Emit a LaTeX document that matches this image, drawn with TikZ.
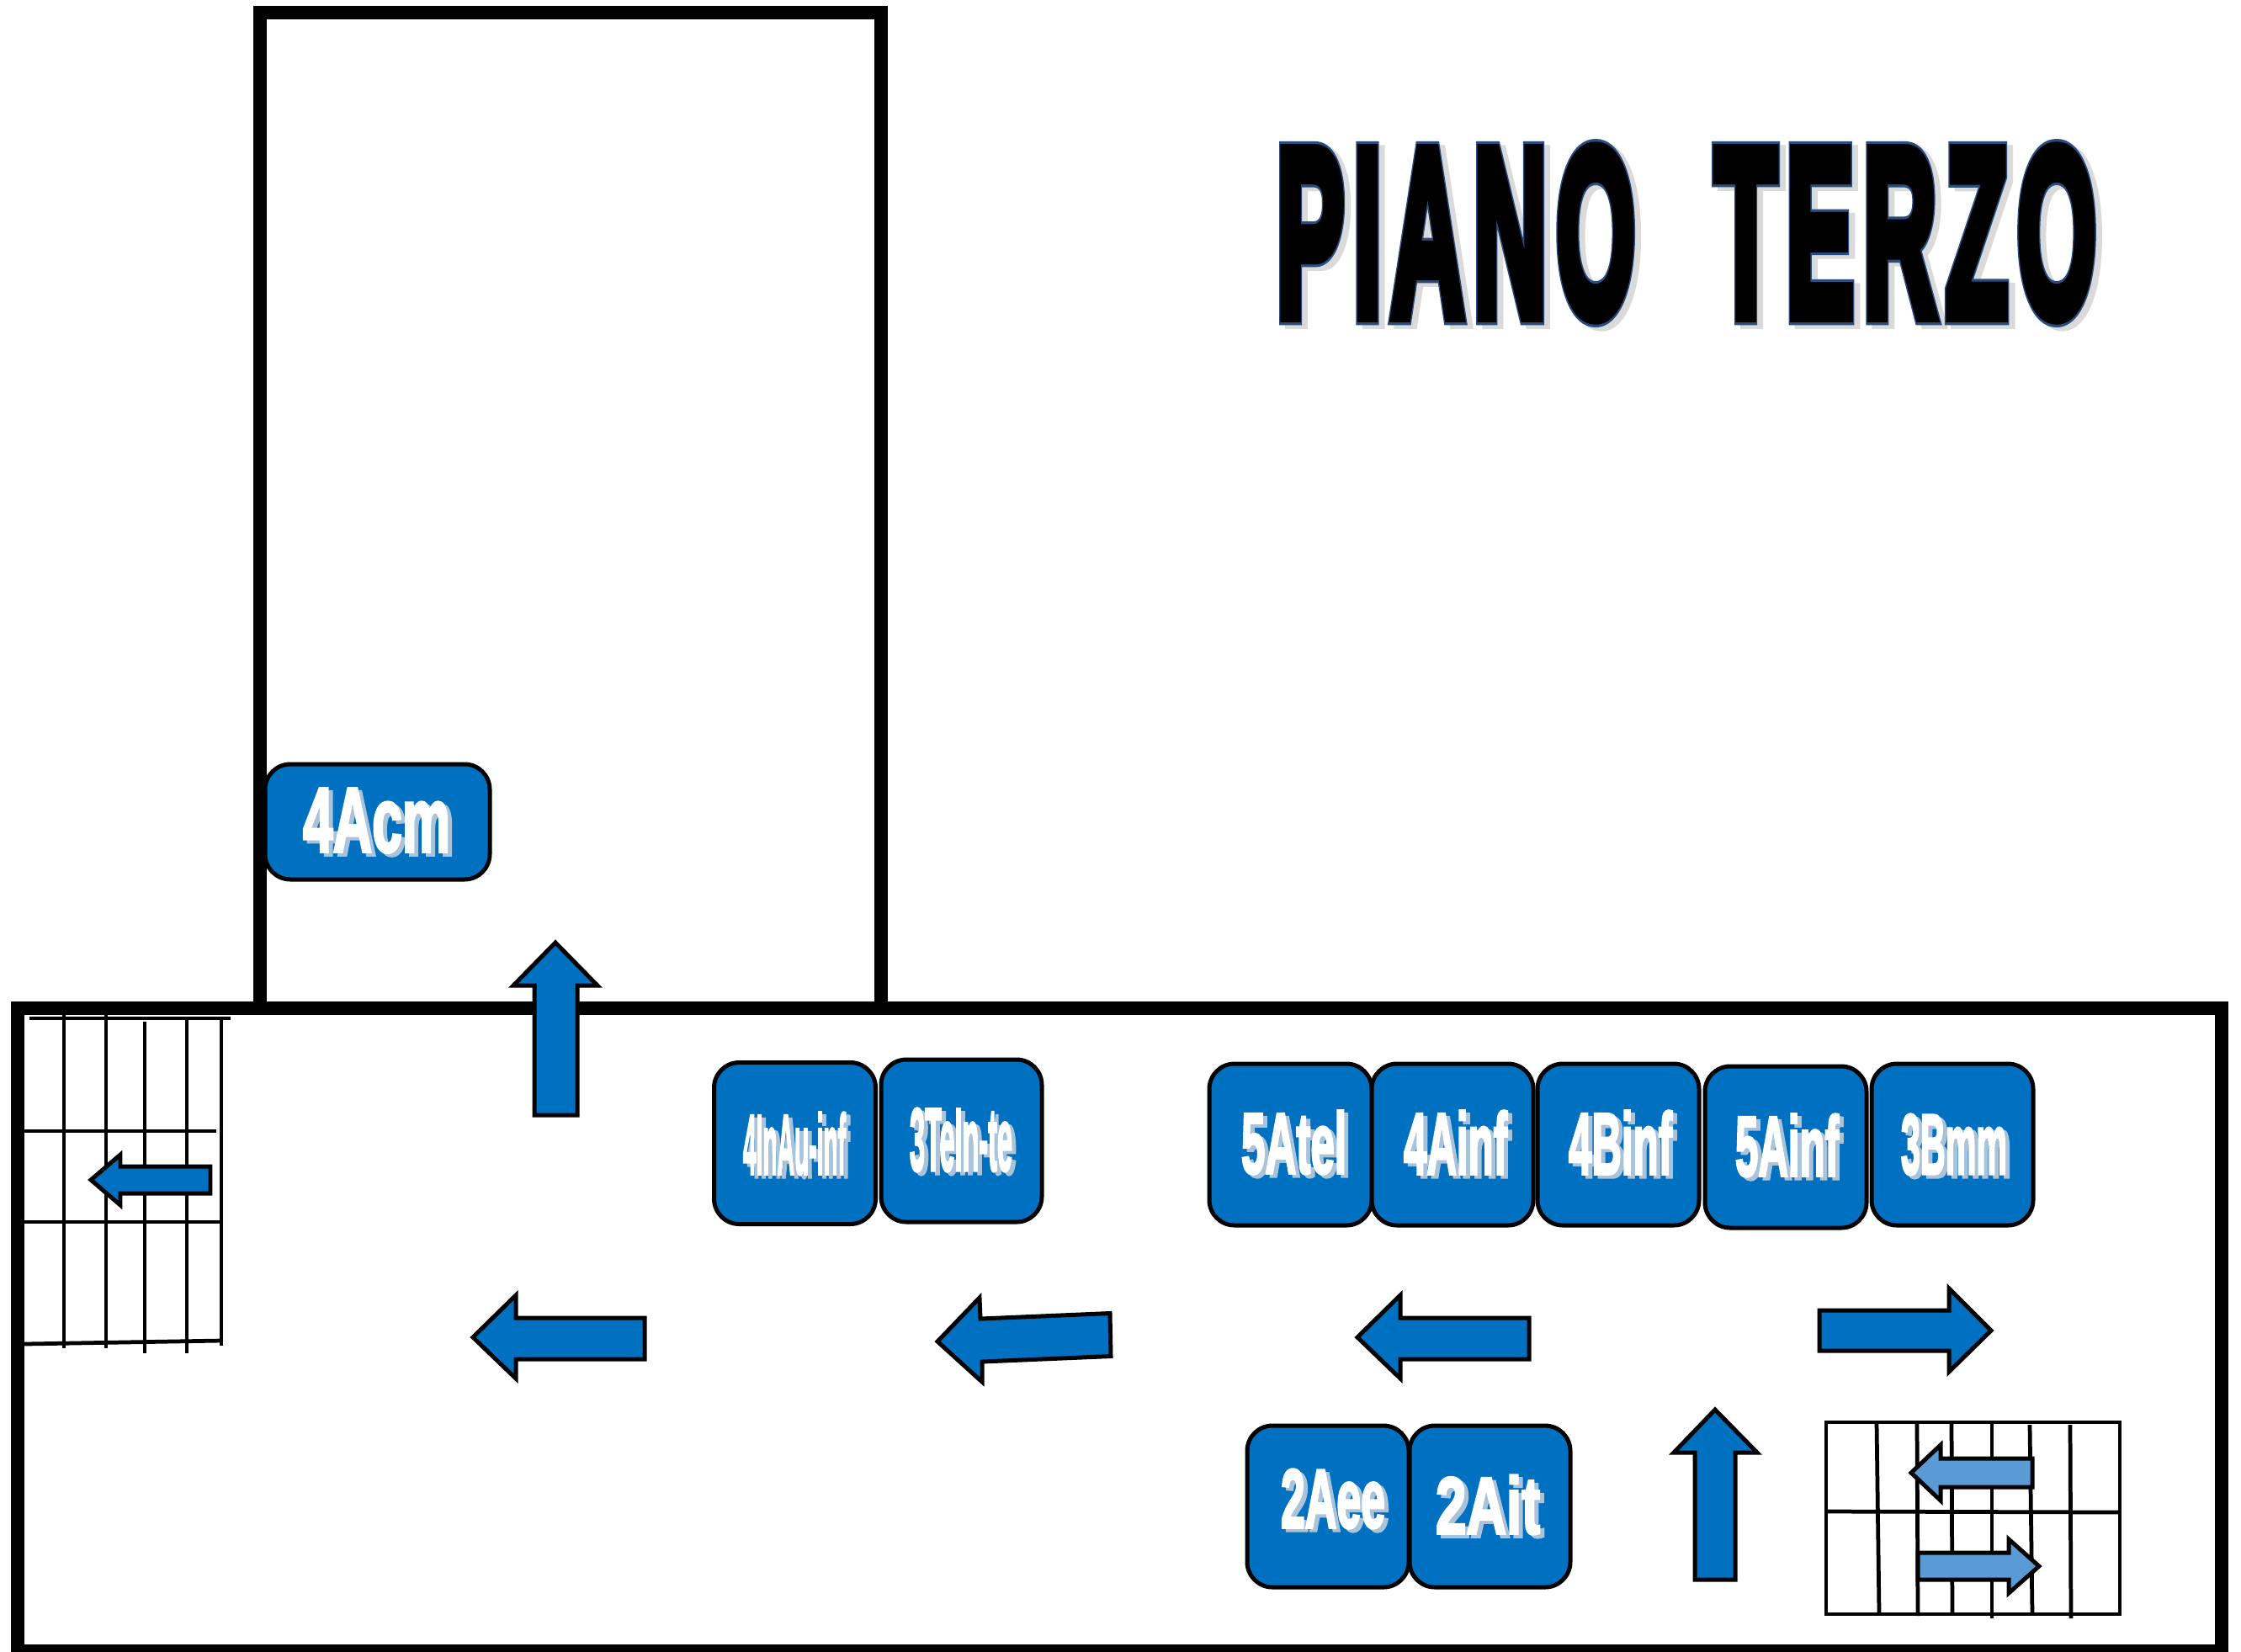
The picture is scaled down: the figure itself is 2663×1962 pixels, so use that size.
\documentclass[tikz,border=0pt]{standalone}
\usepackage{fontspec}
\setmainfont{Liberation Sans}[BoldFont={Liberation Sans Bold}]
\newfontfamily\titlefont{Liberation Sans Bold}[LetterSpace=9]
\definecolor{navblue}{HTML}{0070C0}
\definecolor{lightblue}{HTML}{5B9BD5}
\definecolor{labshadow}{HTML}{A9C4DA}
\definecolor{titleshadow}{HTML}{DADADA}
\tikzset{
  x=0.01cm,y=-0.01cm,
  wall/.style={draw=black,line width=4.55pt,line join=miter},
  stair/.style={draw=black,line width=1.35pt},
  navarrow/.style={draw=black,fill=navblue,line width=1.42pt,line join=miter,miter limit=10},
  liftarrow/.style={draw=black,fill=lightblue,line width=1.42pt,line join=miter,miter limit=10},
  roombox/.style={draw=black,fill=navblue,line width=1.42pt,rounded corners=0.3cm},
  lab/.style={inner sep=0pt,outer sep=0pt,font=\bfseries,text=white}
}
% stroked text: #1 line width, #2 stroke colour as r g b, #3 text
\newcommand{\strk}[3]{\special{pdf:code 2 Tr #1 w 0 j #2 RG}#3\special{pdf:code 0 Tr 0 G}}
% #1 name, #2-#5 x0 x1 y0 y1 of the letters, #6 text
\newcommand{\lab}[6]{%
  \pgfmathsetmacro{\labw}{(#3-#2)*0.2845}%
  \pgfmathsetmacro{\labh}{(#5-#4)*0.2845}%
  \node[lab] (#1) at ({(#2+#3)/2},{(#4+#5)/2}) {%
    \rlap{\smash{\hspace{1.4pt}\raisebox{-1.1pt}{\textcolor{labshadow}{\resizebox*{\labw pt}{\labh pt}{\strk{0.35}{0.663 0.769 0.855}{#6}}}}}}%
    \resizebox*{\labw pt}{\labh pt}{\strk{0.35}{1 1 1}{#6}}};%
}
\newcommand{\titletext}{PIANO\hspace{0.78em}TERZO}
\begin{document}
\begin{tikzpicture}
\useasboundingbox (0,0) rectangle (2663,1962);
\fill[white] (0,0) rectangle (2663,1962);
% left stairs
\draw[stair] (35,1210) -- (274,1210);
\draw[stair] (29,1344) -- (257,1344);
\draw[stair] (29,1452) -- (265,1452);
\draw[stair] (29,1597) -- (263,1593);
\draw[stair] (76,1206) -- (76,1602);
\draw[stair] (126,1206) -- (126,1602);
\draw[stair] (172,1214) -- (172,1608);
\draw[stair] (222,1210) -- (222,1608);
\draw[stair] (263,1212) -- (263,1599);
% right stairs
\draw[stair] (2170,1690) rectangle (2519,1918);
\draw[stair] (2170,1796) -- (2519,1797);
\draw[stair] (2230,1690) -- (2233,1916);
\draw[stair] (2278,1690) -- (2279,1920);
\draw[stair] (2319,1690) -- (2320,1918);
\draw[stair] (2367,1690) -- (2367,1923);
\draw[stair] (2412,1693) -- (2415,1918);
\draw[stair] (2460,1693) -- (2461,1923);
% walls
\draw[wall] (309,1198) -- (309,15) -- (1047,15) -- (1047,1198);
\draw[wall] (21,1198) rectangle (2639.5,1962);
% arrows
\draw[navarrow] (108,1402) -- (143,1372) -- (143,1386) -- (250,1386) -- (250,1418) -- (143,1418) -- (143,1432) -- cycle;
\draw[liftarrow] (2271,1750) -- (2306,1717) -- (2306,1733) -- (2415,1733) -- (2415,1767) -- (2306,1767) -- (2306,1783) -- cycle;
\draw[liftarrow] (2279,1845) -- (2387,1845) -- (2387,1829) -- (2423,1861) -- (2387,1893) -- (2387,1877) -- (2279,1877) -- cycle;
\draw[navarrow] (660,1120) -- (710,1171) -- (686,1171) -- (686,1325) -- (635,1325) -- (635,1171) -- (610,1171) -- cycle;
\draw[navarrow] (562,1589) -- (613,1539) -- (613,1566) -- (766,1566) -- (766,1615) -- (613,1615) -- (613,1638) -- cycle;
\draw[navarrow] (1114,1594) -- (1164,1542) -- (1165,1567) -- (1319,1560.5) -- (1320,1611.5) -- (1167,1618) -- (1167,1642) -- cycle;
\draw[navarrow] (1613,1589) -- (1664,1539) -- (1664,1566) -- (1817,1566) -- (1817,1615) -- (1664,1615) -- (1664,1638) -- cycle;
\draw[navarrow] (2162,1557) -- (2316,1557) -- (2316,1531) -- (2366,1581) -- (2316,1630) -- (2316,1605) -- (2162,1605) -- cycle;
\draw[navarrow] (2038,1675) -- (2088,1726) -- (2062,1726) -- (2062,1877) -- (2014,1877) -- (2014,1726) -- (1989,1726) -- cycle;
% rooms
\draw[roombox] (315,908) rectangle (582,1045);
\draw[roombox] (848.5,1262.5) rectangle (1040.5,1454.5);
\draw[roombox] (1047,1259) rectangle (1238,1452);
\draw[roombox] (1437,1264) rectangle (1630,1456);
\draw[roombox] (1630,1264) rectangle (1822,1456);
\draw[roombox] (1827,1264) rectangle (2019,1456);
\draw[roombox] (2026,1267) rectangle (2218,1459);
\draw[roombox] (2224,1264) rectangle (2416,1456);
\draw[roombox] (1482,1694) rectangle (1674,1886);
\draw[roombox] (1675,1694) rectangle (1866,1886);
\lab{a4cm}{360}{535}{937}{1013}{4Acm}
\lab{a4inau}{883}{1005}{1322}{1396}{4InAu-inf}
\lab{a3tein}{1081}{1203}{1317}{1392}{3TeIn-te}
\lab{a5tel}{1475}{1600}{1320}{1395}{5Atel}
\lab{a4a}{1668}{1791}{1320}{1395}{4Ainf}
\lab{a4b}{1864}{1987}{1320}{1395}{4Binf}
\lab{a5a}{2062}{2185}{1324}{1398}{5Ainf}
\lab{a3b}{2259}{2385}{1324}{1396}{3Bmm}
\lab{a2ee}{1522}{1646}{1746}{1816}{2Aee}
\lab{a2it}{1706}{1830}{1753}{1823}{2Ait}
% title
\node[inner sep=0pt,font=\titlefont] (title) at (2004,277) {%
  \rlap{\smash{\hspace{2pt}\raisebox{-1.3pt}{\textcolor{titleshadow}{\resizebox*{277pt}{57.2pt}{\strk{0.8}{0.855 0.855 0.855}{\titletext}}}}}}%
  \rlap{\resizebox*{277pt}{57.2pt}{\strk{0.8}{0.15 0.3 0.5}{\titletext}}}%
  \resizebox*{277pt}{57.2pt}{\strk{0.57}{0 0 0}{\titletext}}};
\end{tikzpicture}
\end{document}
